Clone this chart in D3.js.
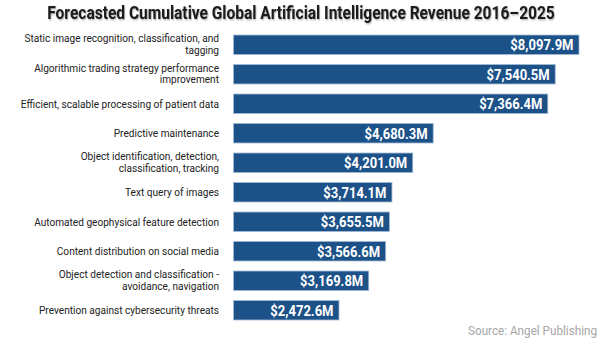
<!DOCTYPE html>
<html>
<head>
<meta charset="utf-8">
<script src="https://cdn.jsdelivr.net/npm/d3@7"></script>
<style>
  html, body { margin: 0; padding: 0; background: #fff; }
  svg { display: block; font-family: Roboto, "Noto Sans", sans-serif; }
</style>
</head>
<body>
<svg id="chart" width="600" height="338"></svg>
<script>
// segment names, top to bottom ("\n" marks the wrapped second line)
const categories = [
    "Static image recognition, classification, and\ntagging",
    "Algorithmic trading strategy performance\nimprovement",
    "Efficient, scalable processing of patient data",
    "Predictive maintenance",
    "Object identification, detection,\nclassification, tracking",
    "Text query of images",
    "Automated geophysical feature detection",
    "Content distribution on social media",
    "Object detection and classification -\navoidance, navigation",
    "Prevention against cybersecurity threats",
];

// cumulative revenue, millions of USD
const revenue = [8097.9, 7540.5, 7366.4, 4680.3, 4201.0, 3714.1, 3655.5, 3566.6, 3169.8, 2472.6];

const titleText = "Forecasted Cumulative Global Artificial Intelligence Revenue 2016\u20132025";
const sourceText = "Source: Angel Publishing";

// Roboto has no condensed cut installed, so squeeze it horizontally
const squeeze = 0.84;
const labelSqueeze = 0.92;

const svg = d3.select("#chart");

const data = categories.map((c, i) => ({ name: c, value: revenue[i] }));

const x = d3.scaleLinear()
    .domain([0, d3.max(revenue)])
    .range([233.5, 579]);

const y = d3.scaleBand()
    .domain(categories)
    .range([30, 325])
    .paddingInner(0.34)
    .paddingOuter(0.17);

const fmt = d3.format(",.1f");

// title with a soft drop shadow
const defs = svg.append("defs");
defs.append("filter")
    .attr("id", "shadow")
    .attr("x", "-5%").attr("y", "-30%")
    .attr("width", "110%").attr("height", "160%")
    .append("feDropShadow")
    .attr("dx", 1).attr("dy", 1)
    .attr("stdDeviation", 0.8)
    .attr("flood-color", "#000")
    .attr("flood-opacity", 0.35);

svg.append("text")
    .attr("transform", `translate(301,19) scale(${squeeze},1)`)
    .attr("text-anchor", "middle")
    .attr("font-size", 18.5)
    .attr("font-weight", 700)
    .attr("fill", "#1a1a1a")
    .attr("filter", "url(#shadow)")
    .text(titleText);

const rows = svg.append("g")
    .selectAll("g.row")
    .data(data)
    .join("g")
    .attr("class", "row");

rows.append("rect")
    .attr("x", x(0))
    .attr("y", d => y(d.name))
    .attr("width", d => x(d.value) - x(0))
    .attr("height", y.bandwidth())
    .attr("fill", "#1d5289")
    .attr("stroke", "#9fb9d6")
    .attr("stroke-width", 0.8);

rows.append("text")
    .attr("transform", d => `translate(${x(d.value) - 5.5},${y(d.name) + y.bandwidth() / 2 + 5.6}) scale(${squeeze},1)`)
    .attr("text-anchor", "end")
    .attr("font-size", 15.5)
    .attr("font-weight", 700)
    .attr("fill", "#fff")
    .text(d => `$${fmt(d.value)}M`);

// category labels, right aligned against the bars
rows.append("text")
    .attr("transform", d => `translate(219,${y(d.name) + y.bandwidth() / 2}) scale(${labelSqueeze},1)`)
    .attr("text-anchor", "end")
    .attr("font-size", 11)
    .attr("fill", "#222")
    .each(function (d) {
        const lines = d.name.split("\n");
        const t = d3.select(this);
        lines.forEach((line, i) => {
            const off = lines.length === 1 ? 4 : (i === 0 ? -2.5 : 9);
            t.append("tspan")
                .attr("x", 0)
                .attr("y", off)
                .text(line);
        });
    });

svg.append("text")
    .attr("transform", `translate(597,335) scale(0.9,1)`)
    .attr("text-anchor", "end")
    .attr("font-size", 13)
    .attr("fill", "#a6a6a6")
    .text(sourceText);
</script>
</body>
</html>
